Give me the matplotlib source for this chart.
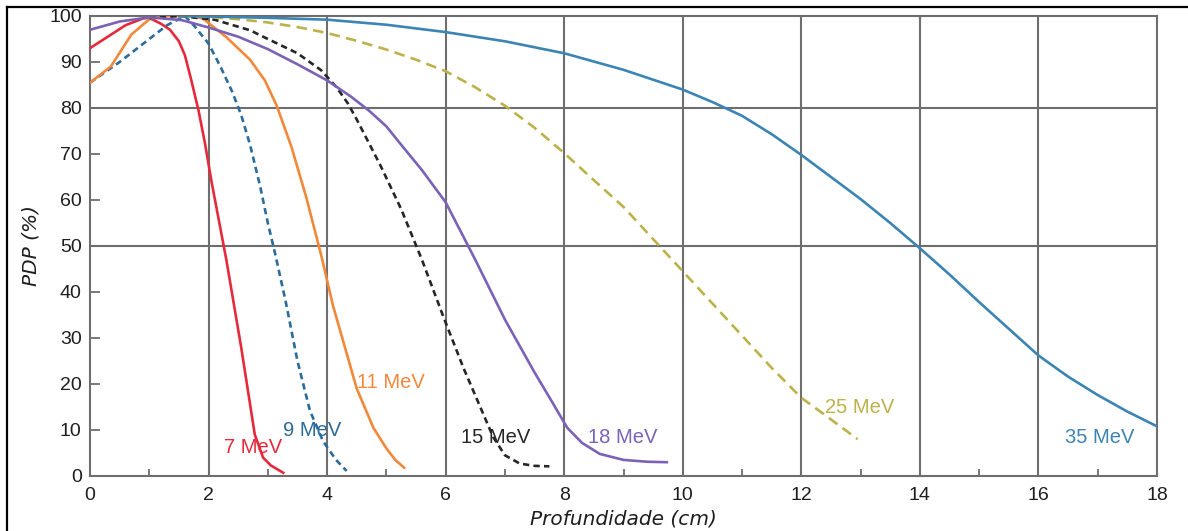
import matplotlib
matplotlib.use("Agg")
import matplotlib.pyplot as plt
from matplotlib.lines import Line2D
from matplotlib.ticker import MultipleLocator

# ---- data ----
x7 = [0, 0.3, 0.6, 0.9, 1.0, 1.2, 1.35, 1.5, 1.6, 1.7, 1.83, 1.94, 2.05, 2.3, 2.55, 2.78, 2.92, 3.05, 3.26]
y7 = [93, 95.5, 98, 99.5, 99.6, 98.3, 97, 94.5, 91.5, 86.5, 79.5, 72.3, 64, 47, 28, 9, 4, 2.3, 0.7]

x9 = [0, 0.5, 1.0, 1.3, 1.6, 1.75, 2.0, 2.2, 2.4, 2.55, 2.7, 2.87, 3.0, 3.12, 3.3, 3.5, 3.71, 3.93, 4.15, 4.33]
y9 = [85.5, 90, 95, 98, 100, 98, 94, 89, 83.5, 78.5, 72, 63, 55, 48.5, 38, 25, 14.2, 7.6, 3.5, 1.1]

x11 = [0, 0.35, 0.7, 1.0, 1.3, 1.7, 1.9, 2.3, 2.7, 2.95, 3.15, 3.4, 3.65, 3.9, 4.1, 4.3, 4.5, 4.78, 5.0, 5.15, 5.3]
y11 = [85.5, 89, 96, 99.3, 100, 100, 99.5, 95.4, 90.5, 86, 80.5, 71.5, 60.5, 48, 37, 28, 19, 10.5, 6, 3.5, 1.8]

x15 = [1.0, 1.5, 2.1, 2.7, 3.0, 3.5, 3.9, 4.16, 4.35, 4.5, 4.9, 5.25, 5.6, 5.95, 6.3, 6.6, 6.8, 7.0, 7.25, 7.5, 7.75]
y15 = [99.5, 100, 99.2, 96.9, 95, 91.9, 88.2, 84.5, 81, 77.5, 67.5, 58, 47, 35, 23.5, 14.5, 8.5, 4.5, 2.7, 2.2, 2.1]

x18 = [0, 0.5, 1.0, 1.55, 2.0, 2.5, 3.0, 3.5, 4.0, 4.4, 4.7, 5.0, 5.25, 5.6, 6.0, 6.5, 7.0, 7.5, 7.8, 8.05, 8.3, 8.6, 9.0, 9.4, 9.73]
y18 = [97, 98.8, 99.7, 99.1, 97.5, 95.5, 92.8, 89.5, 86, 82.5, 79.5, 76, 72, 66.5, 59.5, 47, 34, 22.5, 16, 10.5, 7.2, 4.8, 3.5, 3.1, 3.0]

x25 = [1.5, 2.0, 2.5, 3.0, 3.5, 4.0, 4.5, 5.0, 5.5, 6.0, 6.5, 7.0, 7.5, 8.0, 8.5, 9.0, 9.5, 10.0, 10.5, 11.0, 11.5, 12.0, 12.5, 12.95]
y25 = [100, 99.8, 99.3, 98.6, 97.6, 96.3, 94.6, 92.7, 90.5, 88, 84.5, 80.5, 75.7, 70.2, 64.3, 58.5, 51.5, 44.5, 37.5, 30.5, 23.5, 17, 12.3, 8]

x35 = [1.5, 2.0, 3.0, 4.0, 5.0, 6.0, 7.0, 8.0, 9.0, 10.0, 10.5, 11.0, 11.5, 12.0, 12.5, 13.0, 13.5, 14.0, 14.5, 15.0, 15.5, 16.0, 16.5, 17.0, 17.5, 18.0]
y35 = [100, 99.9, 99.6, 99.2, 98.1, 96.5, 94.5, 91.9, 88.3, 84, 81.3, 78.3, 74.3, 69.8, 65, 60.2, 55, 49.5, 43.8, 37.8, 32, 26.2, 21.6, 17.6, 14, 10.8]

labels = ["7 MeV", "9 MeV", "11 MeV", "15 MeV", "18 MeV", "25 MeV", "35 MeV"]
label_x = [2.26, 3.25, 4.5, 6.26, 8.4, 12.4, 16.44]
label_y = [6.3, 9.8, 20.3, 8.3, 8.3, 14.8, 8.3]

x_ticks = [0, 2, 4, 6, 8, 10, 12, 14, 16, 18]
y_ticks = [0, 10, 20, 30, 40, 50, 60, 70, 80, 90, 100]
h_grid = [50, 80]

# ---- styling ----
colors = ["#e52a3b", "#2b6c9a", "#f2883a", "#262626", "#7c62b6", "#bdb24a", "#3c84b4"]
series = [(x7, y7), (x9, y9), (x11, y11), (x15, y15), (x18, y18), (x25, y25), (x35, y35)]
dashes = [None, (2.4, 1.6), None, (2.4, 1.6), None, (4.0, 2.4), None]

fig = plt.figure(figsize=(11.88, 5.31), dpi=100)
ax = fig.add_axes([90/1188, 1-476/531, (1157-90)/1188, (476-16)/531])

grid_c = "#6e6e6e"
for gx in x_ticks[1:-1]:
    ax.axvline(gx, color=grid_c, lw=1.5, zorder=1)
for gy in h_grid:
    ax.axhline(gy, color=grid_c, lw=1.5, zorder=1)

for (xs, ys), c, d in zip(series, colors, dashes):
    if d is None:
        ax.plot(xs, ys, color=c, lw=1.9, zorder=3, solid_joinstyle='round')
    else:
        ax.plot(xs, ys, color=c, lw=1.9, zorder=3, dashes=d)

for t, lx, ly, c in zip(labels, label_x, label_y, colors):
    ax.text(lx, ly, t, color=c, fontsize=14.5, family="Liberation Sans",
            ha="left", va="center", zorder=4)

ax.set_xlim(0, 18)
ax.set_ylim(0, 100)
ax.set_xticks(x_ticks)
ax.set_yticks(y_ticks)
ax.xaxis.set_minor_locator(MultipleLocator(1))
for s in ax.spines.values():
    s.set_color(grid_c)
    s.set_linewidth(1.5)
ax.tick_params(axis="both", which="major", direction="in", length=7, width=1.3,
               color=grid_c, labelsize=14, labelcolor="#1e1e1e", pad=6)
ax.tick_params(axis="x", which="minor", direction="in", length=5, width=1.3, color=grid_c)
ax.tick_params(axis="x", which="major", length=0, pad=8)
for lab in ax.get_xticklabels() + ax.get_yticklabels():
    lab.set_family("Liberation Sans")

ax.set_xlabel("Profundidade (cm)", fontsize=14.5, style="italic", family="DejaVu Sans",
              color="#1e1e1e", labelpad=4)
ax.set_ylabel("PDP (%)", fontsize=14.5, style="italic", family="DejaVu Sans",
              color="#1e1e1e", labelpad=6)

# figure frame (top and left edges)
fig.add_artist(Line2D([7/1188, 1.0], [1-7/531, 1-7/531], color="black", lw=1.6,
                      transform=fig.transFigure))
fig.add_artist(Line2D([7/1188, 7/1188], [0, 1-7/531], color="black", lw=1.6,
                      transform=fig.transFigure))

fig.savefig("out.png", dpi=100)
